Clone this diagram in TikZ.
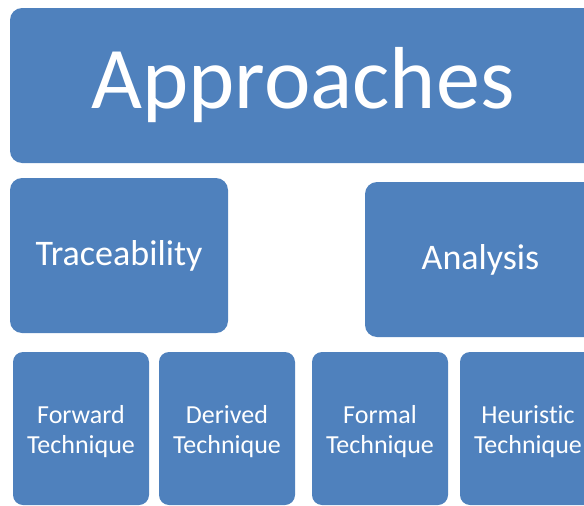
\documentclass[tikz,border=0pt]{standalone}
\usepackage{fontspec}
\setmainfont{Carlito}[Ligatures = CommonOff]
\usepackage{tikz}
\definecolor{officeblue}{HTML}{4F81BD}
\tikzset{
	blk/.style = {rectangle, rounded corners = 12pt, fill = officeblue, text = white, inner sep = 0pt, align = center},
	leaf/.style = {blk, rounded corners = 10pt, minimum width = 136pt, minimum height = 153pt, text height = 54pt, text depth = 5pt, font = \fontsize{26}{30}\selectfont}
}

\begin{document}
\begin{tikzpicture}[x = 1pt, y = -1pt]
				\useasboundingbox (0,0) rectangle (584,506);
				\clip (0,0) rectangle (584,506);
				\node[blk, minimum width = 586pt, minimum height = 155pt, font = \fontsize{88}{88}\selectfont] (approaches) at (303,85.5) {Approaches};
				\node[blk, minimum width = 218pt, minimum height = 155pt, font = \fontsize{36}{40}\selectfont] (trace) at (119,255.5) {Traceability};
				\node[blk, minimum width = 231pt, minimum height = 155pt, font = \fontsize{36}{40}\selectfont] (analysis) at (480.5,259.5) {Analysis};
				\node[leaf] (forward) at (81,428.5) {Forward\\Technique};
				\node[leaf] (derived) at (227,428.5) {Derived\\Technique};
				\node[leaf] (formal) at (380,428.5) {Formal\\Technique};
				\node[leaf] (heuristic) at (528,428.5) {Heuristic\\Technique};
			\end{tikzpicture}
\end{document}
